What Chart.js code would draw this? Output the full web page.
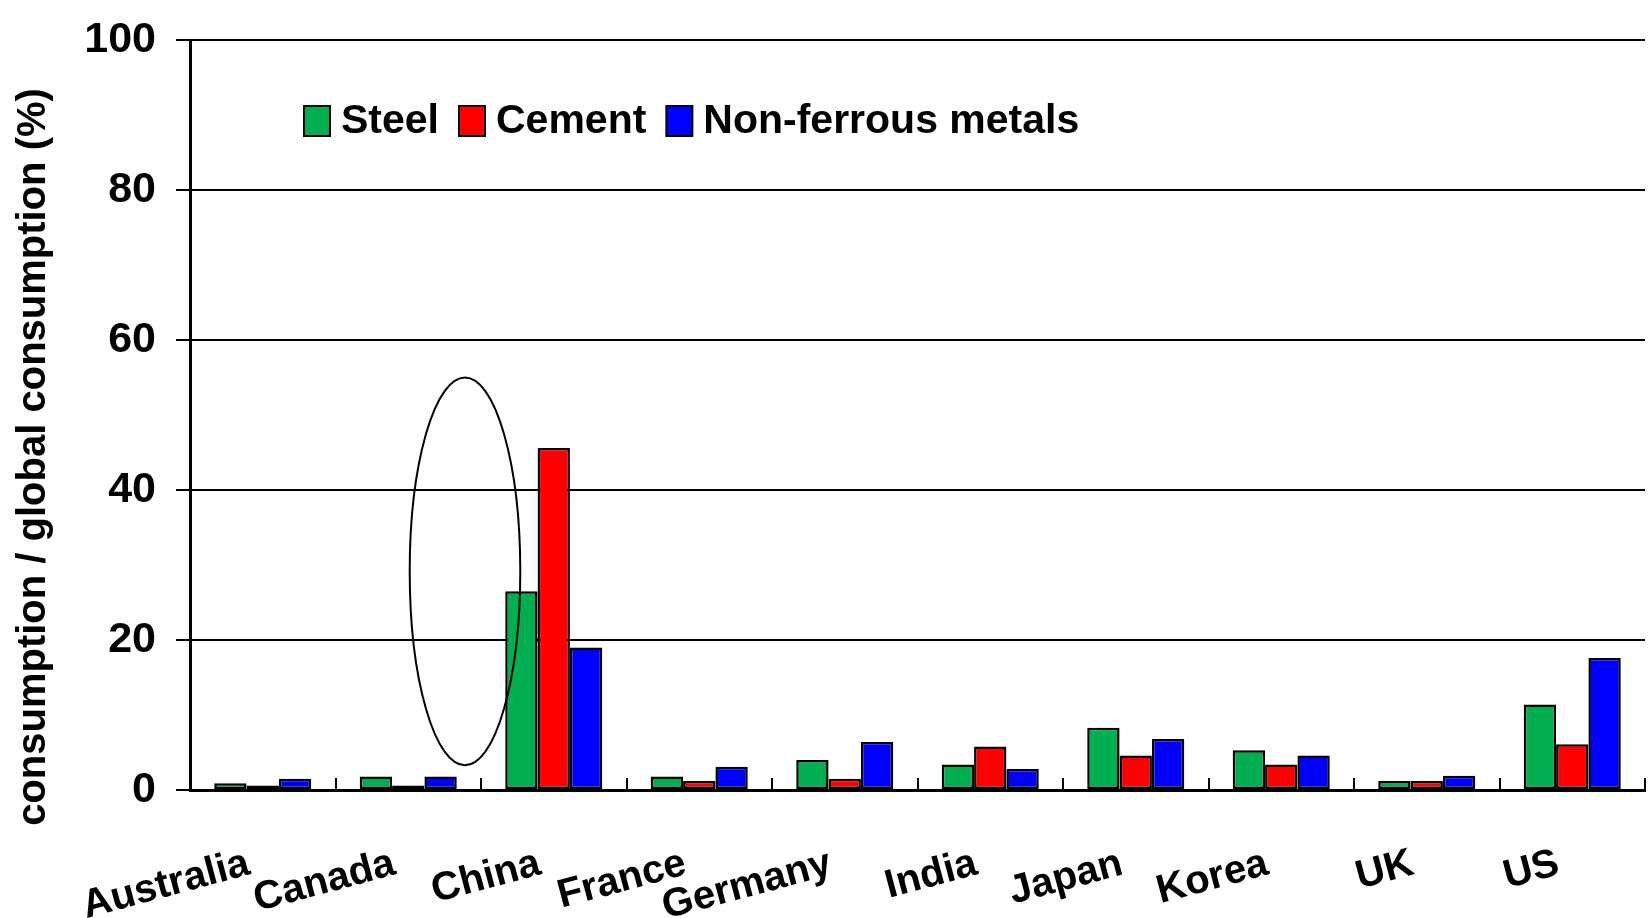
<!DOCTYPE html>
<html>
<head>
<meta charset="utf-8">
<script src="https://cdn.jsdelivr.net/npm/chart.js@4.4.0/dist/chart.umd.min.js"></script>
<style>
  html, body { margin: 0; padding: 0; background: #fff; }
</style>
</head>
<body>
<canvas id="myChart" width="1651" height="918"></canvas>
<script>
const countries = ["Australia", "Canada", "China", "France", "Germany", "India", "Japan", "Korea", "UK", "US"];
const steel = [0.9, 1.8, 26.5, 1.8, 4.0, 3.4, 8.3, 5.3, 1.2, 11.4];
const cement = [0.6, 0.6, 45.6, 1.2, 1.5, 5.8, 4.6, 3.4, 1.2, 6.1];
const nonFerrous = [1.5, 1.8, 19.0, 3.1, 6.4, 2.8, 6.8, 4.6, 1.9, 17.6];
const yTicks = [0, 20, 40, 60, 80, 100];
const yTitle = "consumption / global consumption (%)";
// circled region, in category index / percent units
const highlight = { x: 1.39, halfWidth: 0.38, top: 55, bottom: 3.3 };

const fontFamily = "'Liberation Sans', Arial, Helvetica, sans-serif";
Chart.defaults.font.family = fontFamily;
Chart.defaults.color = "#000";

// legend drawn inside the plot, like the original
const insideLegend = {
  id: "insideLegend",
  afterDraw(chart) {
    const ctx = chart.ctx;
    let x = 304;
    const y = 106, bw = 26, bh = 30;
    ctx.save();
    ctx.font = "bold 41px " + fontFamily;
    ctx.textBaseline = "middle";
    ctx.textAlign = "left";
    chart.data.datasets.forEach(ds => {
      ctx.fillStyle = ds.backgroundColor;
      ctx.fillRect(x, y, bw, bh);
      ctx.lineWidth = 2;
      ctx.strokeStyle = "#000";
      ctx.strokeRect(x, y, bw, bh);
      x += bw + 11;
      ctx.fillStyle = "#000";
      ctx.fillText(ds.label, x, y + bh / 2 + 1);
      x += ctx.measureText(ds.label).width + 20;
    });
    ctx.restore();
  }
};

// y axis title, sits a little below the centre of the axis in the original
const sideTitle = {
  id: "sideTitle",
  afterDraw(chart) {
    const ctx = chart.ctx;
    ctx.save();
    ctx.translate(34, 457);
    ctx.rotate(-Math.PI / 2);
    ctx.font = "bold 40px " + fontFamily;
    ctx.textAlign = "center";
    ctx.textBaseline = "middle";
    ctx.fillStyle = "#000";
    ctx.fillText(yTitle, 0, 0);
    ctx.restore();
  }
};

const ellipseMark = {
  id: "ellipseMark",
  afterDatasetsDraw(chart) {
    const xs = chart.scales.x, ys = chart.scales.y;
    const cx = xs.getPixelForValue(highlight.x);
    const rx = xs.getPixelForValue(highlight.x + highlight.halfWidth) - cx;
    const top = ys.getPixelForValue(highlight.top);
    const bottom = ys.getPixelForValue(highlight.bottom);
    const ctx = chart.ctx;
    ctx.save();
    ctx.beginPath();
    ctx.ellipse(cx, (top + bottom) / 2, rx, (bottom - top) / 2, 0, 0, Math.PI * 2);
    ctx.lineWidth = 2;
    ctx.strokeStyle = "#000";
    ctx.stroke();
    ctx.restore();
  }
};

const barStyle = { borderColor: "#000", borderWidth: 2.5, borderSkipped: false };

new Chart(document.getElementById("myChart"), {
  type: "bar",
  data: {
    labels: countries,
    datasets: [
      { label: "Steel", data: steel, backgroundColor: "#00B050", ...barStyle },
      { label: "Cement", data: cement, backgroundColor: "#FF0000", ...barStyle },
      { label: "Non-ferrous metals", data: nonFerrous, backgroundColor: "#0000FF", ...barStyle }
    ]
  },
  options: {
    responsive: false,
    animation: false,
    layout: { padding: { top: 40, right: 6, left: 0, bottom: 0 } },
    datasets: { bar: { categoryPercentage: 0.667, barPercentage: 1.0 } },
    plugins: {
      legend: { display: false },
      tooltip: { enabled: false }
    },
    scales: {
      x: {
        grid: {
          offset: true,
          color: c => c.index === countries.length ? "#000" : "rgba(0,0,0,0)",
          lineWidth: 2,
          tickColor: "#000",
          tickWidth: 2,
          tickLength: -12
        },
        border: { color: "#000", width: 3 },
        ticks: {
          font: { size: 40, weight: "bold" },
          color: "#000",
          maxRotation: 15,
          minRotation: 15,
          autoSkip: false,
          padding: 62,
          labelOffset: -14
        },
        afterFit: s => { s.height = 128; }
      },
      y: {
        min: 0,
        max: 100,
        afterBuildTicks: s => { s.ticks = yTicks.map(v => ({ value: v })); },
        grid: { color: "#000", lineWidth: 2, tickLength: 14, tickColor: "#000" },
        border: { color: "#000", width: 3 },
        ticks: { font: { size: 43, weight: "bold" }, color: "#000", padding: 20 },
        afterFit: s => { s.width = 190; s.paddingTop = 0; s.paddingBottom = 0; }
      }
    }
  },
  plugins: [ellipseMark, insideLegend, sideTitle]
});
</script>
</body>
</html>
